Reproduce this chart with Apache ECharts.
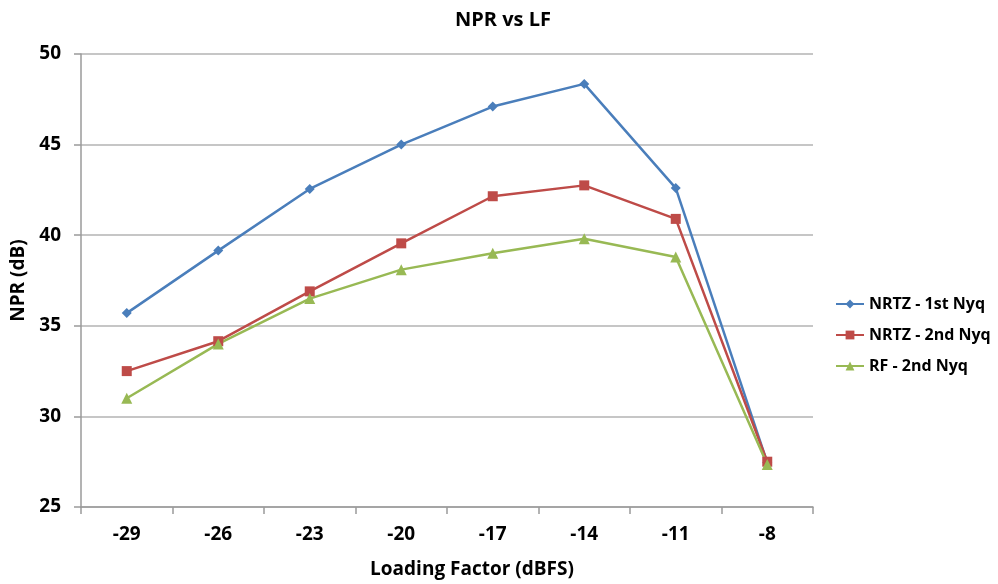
<!DOCTYPE html>
<html><head><meta charset="utf-8">
<script src="https://cdn.jsdelivr.net/npm/echarts@6/dist/echarts.min.js"></script>
<style>html,body{margin:0;padding:0;background:#fff}#c{width:998px;height:584px}</style>
</head><body><div id="c"></div>
<script>
const categories = ['-29','-26','-23','-20','-17','-14','-11','-8'];
const nrtz1st = [35.7, 39.15, 42.55, 45.0, 47.1, 48.35, 42.6, 27.45];
const nrtz2nd = [32.5, 34.15, 36.9, 39.55, 42.15, 42.75, 40.9, 27.5];
const rf2nd   = [31.0, 34.0, 36.5, 38.1, 39.0, 39.8, 38.8, 27.35];
const seriesNames = ['NRTZ - 1st Nyq','NRTZ - 2nd Nyq','RF - 2nd Nyq'];

const font = '"Open Sans", "Liberation Sans", sans-serif';
const chart = echarts.init(document.getElementById('c'));
function mk(name, data, color, symbol, size){
  return {name, type:'line', data, symbol, symbolSize:size, showAllSymbol:true,
    lineStyle:{color, width:2.5}, itemStyle:{color}, emphasis:{disabled:true}};
}
chart.setOption({
  animation:false,
  title:{text:'NPR vs LF', left:498, top:5, textAlign:'center',
    textStyle:{fontFamily:font, fontSize:20, fontWeight:'bold', color:'#000'}},
  grid:{left:81, top:54, width:732, height:456, containLabel:false},
  legend:{orient:'vertical', left:830, top:291, itemGap:15, itemWidth:28, itemHeight:11,
    data:seriesNames,
    textStyle:{fontFamily:font, fontSize:16, fontWeight:'bold', color:'#000'}},
  xAxis:{type:'category', data:categories, boundaryGap:true,
    name:'Loading Factor (dBFS)', nameLocation:'middle', nameGap:53,
    nameTextStyle:{fontFamily:font, fontSize:19, fontWeight:'bold', color:'#000', padding:[0,0,0,50]},
    axisLine:{lineStyle:{color:'#9a9a9a', width:1.5}},
    axisTick:{show:true, alignWithLabel:false, length:7, lineStyle:{color:'#9a9a9a', width:1.5}},
    axisLabel:{fontFamily:font, fontSize:19, fontWeight:'bold', color:'#000', margin:18},
    splitLine:{show:false}},
  yAxis:{type:'value', min:25, max:50, interval:5,
    name:'NPR (dB)', nameLocation:'middle', nameGap:49, nameRotate:90,
    nameTextStyle:{fontFamily:font, fontSize:19, fontWeight:'bold', color:'#000'},
    axisLine:{show:true, lineStyle:{color:'#9a9a9a', width:1.5}},
    axisTick:{show:true, length:7, lineStyle:{color:'#9a9a9a', width:1.5}},
    axisLabel:{fontFamily:font, fontSize:19, fontWeight:'bold', color:'#000', margin:20},
    splitLine:{lineStyle:{color:'#b3b3b3', width:1.5}}},
  series:[
    mk(seriesNames[0], nrtz1st, '#4a7ebb', 'diamond', 10),
    mk(seriesNames[1], nrtz2nd, '#be4b48', 'rect', 10),
    mk(seriesNames[2], rf2nd, '#98b954', 'triangle', 11)
  ]
});
</script></body></html>
